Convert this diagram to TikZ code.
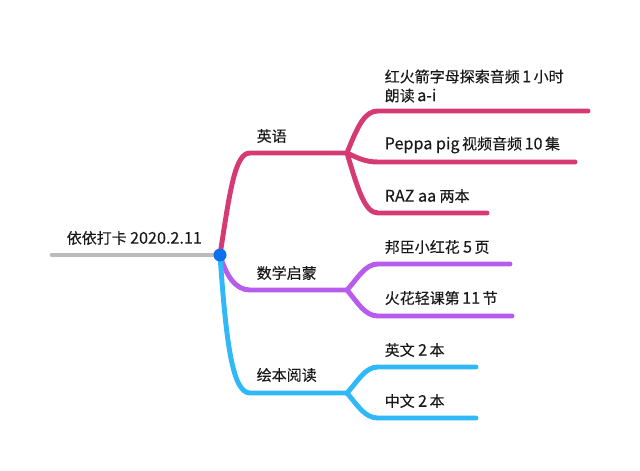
\documentclass[tikz,border=0pt]{standalone}
\usepackage{fontspec}
\setmainfont[FakeBold=0.3]{Noto Sans CJK SC}
\newcommand{\latin}[1]{{\fontsize{13.8}{16.2}\selectfont #1}}
\definecolor{rootgray}{HTML}{BBBBBB}
\definecolor{dotblue}{HTML}{0A70F0}
\definecolor{engred}{HTML}{D63A72}
\definecolor{mathpurple}{HTML}{B85CEE}
\definecolor{bookblue}{HTML}{30B8F8}
\begin{document}
\begin{tikzpicture}[x=0.03cm,y=0.03cm]
	\tikzstyle{every node}+=[inner sep=0pt,anchor=west,align=left,text=black!90,font=\fontsize{12.8}{16.2}\selectfont]
	\tikzstyle{branch}=[line width=4.2pt,line cap=round]
	\useasboundingbox (0,0) rectangle (640,-470);
	\coordinate (rootstart) at (52,-255);
	\coordinate (root) at (220,-255);
	\coordinate (engbend) at (250,-153);
	\coordinate (eng) at (347,-153);
	\coordinate (mathbend) at (250,-290);
	\coordinate (math) at (347,-290);
	\coordinate (bookbend) at (250,-393);
	\coordinate (book) at (347,-393);
	\coordinate (rocketbend) at (378,-111);
	\coordinate (rocketend) at (588,-111);
	\coordinate (peppabend) at (378,-162);
	\coordinate (peppaend) at (575,-162);
	\coordinate (razbend) at (378,-213);
	\coordinate (razend) at (487,-213);
	\coordinate (bangbend) at (378,-264);
	\coordinate (bangend) at (510,-264);
	\coordinate (sparkbend) at (378,-316);
	\coordinate (sparkend) at (512,-316);
	\coordinate (enbookbend) at (378,-367);
	\coordinate (enbookend) at (476,-367);
	\coordinate (cnbookbend) at (378,-418);
	\coordinate (cnbookend) at (476,-418);
	\draw [rootgray,branch] (rootstart) -- (root);
	\draw [engred,branch] (root) .. controls (230,-190) and (235,-153) .. (engbend) -- (eng);
	\draw [engred,branch] (eng) .. controls (358,-125) and (365,-111) .. (rocketbend) -- (rocketend);
	\draw [engred,branch] (eng) .. controls (358,-158) and (365,-162) .. (peppabend) -- (peppaend);
	\draw [engred,branch] (eng) .. controls (358,-190) and (365,-213) .. (razbend) -- (razend);
	\draw [mathpurple,branch] (root) .. controls (226,-275) and (235,-290) .. (mathbend) -- (math);
	\draw [mathpurple,branch] (math) .. controls (358,-278) and (365,-264) .. (bangbend) -- (bangend);
	\draw [mathpurple,branch] (math) .. controls (358,-303) and (365,-316) .. (sparkbend) -- (sparkend);
	\draw [bookblue,branch] (root) .. controls (226,-340) and (232,-393) .. (bookbend) -- (book);
	\draw [bookblue,branch] (book) .. controls (358,-381) and (365,-367) .. (enbookbend) -- (enbookend);
	\draw [bookblue,branch] (book) .. controls (358,-406) and (365,-418) .. (cnbookbend) -- (cnbookend);
	\fill [dotblue] (root) circle (6.5);
	\node (roottext) at (66.5,-238) {依依打卡 \latin{2020.2.11}};
	\node (engtext) at (256.5,-136) {英语};
	\node (mathtext) at (256.5,-273) {数学启蒙};
	\node (booktext) at (256.5,-375) {绘本阅读};
	\node (rockettext) at (384.5,-86) {红火箭字母探索音频\,\latin{1}\,小时\\朗读\,\latin{a-i}};
	\node (peppatext) at (384.5,-145) {\latin{Peppa pig}\,视频音频\,\latin{10}\,集};
	\node (raztext) at (384.5,-196) {\latin{RAZ aa} 两本};
	\node (bangtext) at (384.5,-247) {邦臣小红花 \latin{5}\,页};
	\node (sparktext) at (384.5,-298) {火花轻课第\,\latin{11}\,节};
	\node (enbooktext) at (384.5,-350) {英文 \latin{2}\,本};
	\node (cnbooktext) at (384.5,-401) {中文 \latin{2}\,本};
\end{tikzpicture}
\end{document}
